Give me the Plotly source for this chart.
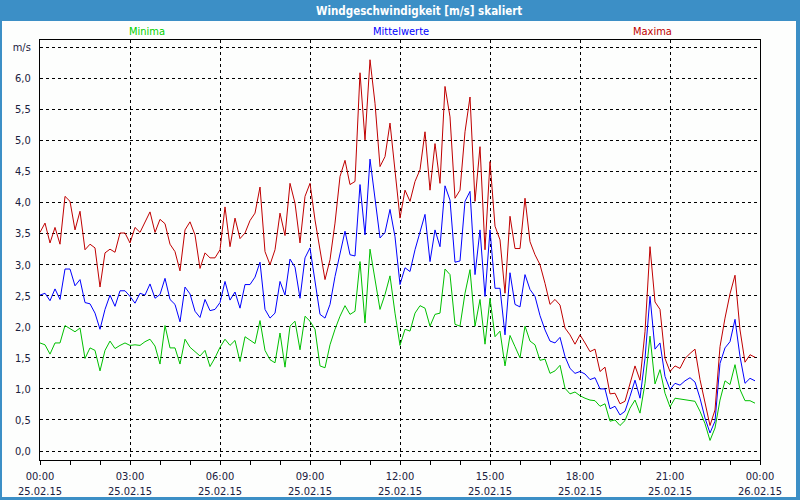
import plotly.graph_objects as go
import pandas as pd

# 10-minute values, 25.02.15 00:00 .. 23:50
maxima = [3.52,3.67,3.35,3.6,3.33,4.1,4.02,3.56,3.86,3.24,3.33,3.27,2.64,3.19,3.25,3.2,3.51,3.51,3.35,3.6,
          3.52,3.68,3.85,3.52,3.73,3.66,3.33,3.21,2.9,3.56,3.69,3.48,2.94,3.19,3.11,3.11,3.24,3.93,3.29,3.75,
          3.42,3.51,3.71,3.83,4.25,3.21,3.0,3.24,3.83,3.47,4.31,3.99,3.35,
          4.1,4.31,3.72,3.21,2.76,3.08,3.67,4.42,4.68,4.29,4.34,6.09,5.01,6.3,5.6,4.58,4.74,5.28,4.53,3.75,
          4.2,4.02,4.34,4.53,5.14,4.2,4.95,4.31,5.87,5.38,4.07,4.2,5.14,5.7,4.02,4.9,3.24,4.66,3.62,3.4,
          2.54,3.78,3.26,3.26,4.07,3.37,3.16,
          3.0,2.7,2.36,2.44,2.35,1.98,1.87,1.72,1.87,1.74,1.6,1.64,1.28,1.35,0.92,0.93,0.76,0.8,1.07,1.37,
          1.14,1.92,3.29,2.4,2.28,1.49,1.28,1.37,1.33,1.49,1.57,1.64,1.15,0.76,0.41,0.66,1.68,2.14,2.53,2.83,
          1.95,1.43,1.55,1.51]
mittel = [2.51,2.54,2.42,2.61,2.44,2.93,2.93,2.66,2.76,2.39,2.37,2.22,1.96,2.28,2.51,2.33,2.58,2.58,2.49,2.38,
          2.54,2.51,2.69,2.46,2.52,2.78,2.44,2.36,2.08,2.64,2.53,2.25,2.15,2.44,2.26,2.28,2.39,2.73,2.43,2.56,
          2.3,2.68,2.68,2.8,3.04,2.28,2.14,2.22,2.73,2.51,3.09,2.96,2.46,
          3.11,3.27,2.76,2.2,2.14,2.36,2.81,3.19,3.54,3.16,3.14,4.29,3.48,4.7,4.1,3.43,3.52,3.89,3.45,2.68,
          2.95,2.89,3.24,3.54,3.81,3.05,3.56,3.29,4.27,4.04,3.04,3.06,4.02,4.18,2.84,3.56,2.49,3.56,2.62,2.62,
          1.87,2.87,2.36,2.32,2.84,2.6,2.49,
          2.18,1.95,1.77,1.74,1.83,1.52,1.33,1.25,1.28,1.24,1.15,1.18,1.0,1.0,0.68,0.72,0.58,0.64,0.88,1.14,
          0.85,1.49,2.49,1.64,1.74,1.2,0.99,1.09,1.06,1.13,1.18,1.11,0.85,0.53,0.29,0.48,1.41,1.66,1.76,2.12,
          1.52,1.09,1.17,1.13]
minima = [1.74,1.71,1.56,1.74,1.74,2.02,1.97,1.92,1.98,1.49,1.66,1.62,1.29,1.62,1.77,1.65,1.7,1.74,1.7,1.71,
          1.7,1.76,1.8,1.69,1.4,2.02,1.66,1.66,1.4,1.8,1.67,1.6,1.53,1.62,1.36,1.5,1.67,1.8,1.7,1.78,
          1.44,1.84,1.78,1.73,2.1,1.62,1.47,1.42,1.9,1.35,2.01,2.09,1.63,
          2.17,2.09,1.96,1.37,1.34,1.71,1.96,2.17,2.34,2.2,2.25,3.05,2.06,3.25,2.76,2.28,2.52,2.82,2.22,1.7,
          1.96,1.93,2.22,2.34,2.3,2.01,2.2,2.22,2.93,2.84,2.04,2.01,2.54,2.92,2.01,2.44,1.72,2.46,1.84,1.93,
          1.37,1.86,1.68,1.5,2.01,1.77,1.71,
          1.46,1.48,1.25,1.29,1.38,1.01,0.92,0.95,0.89,0.85,0.82,0.81,0.72,0.76,0.48,0.5,0.41,0.49,0.69,0.82,
          0.61,1.09,1.85,1.08,1.31,0.93,0.71,0.85,0.84,0.82,0.82,0.8,0.64,0.44,0.17,0.37,0.82,1.13,1.07,1.39,
          0.99,0.81,0.81,0.77]

times = pd.date_range("2015-02-25 00:00", periods=len(maxima), freq="10min")

y_tickvals = [0, 0.5, 1, 1.5, 2, 2.5, 3, 3.5, 4, 4.5, 5, 5.5, 6, 6.5]
y_ticktext = ["0,0", "0,5", "1,0", "1,5", "2,0", "2,5", "3,0", "3,5", "4,0", "4,5", "5,0", "5,5", "6,0", "m/s"]

title = "Windgeschwindigkeit [m/s] skaliert"
series_names = ["Minima", "Mittelwerte", "Maxima"]
colors = ["#00c000", "#0000ff", "#c00000"]

FONT = "DejaVu Sans Condensed, DejaVu Sans, sans-serif"
TXT = "#1a2040"
W, H = 800, 500
L, R, T, B = 40, 40, 40, 40

def px_x(px):
    return (px - L) / (W - L - R)

def px_y(py):
    return 1 - (py - T) / (H - T - B)

fig = go.Figure()
for name, vals, col in zip(series_names, [minima, mittel, maxima], colors):
    fig.add_trace(go.Scatter(x=times, y=vals, mode="lines", name=name,
                             line=dict(color=col, width=1), showlegend=False))

fig.update_layout(
    width=W, height=H,
    margin=dict(l=L, r=R, t=T, b=B, autoexpand=False),
    paper_bgcolor="#3c8fc6",
    plot_bgcolor="white",
    font=dict(family=FONT, size=11, color=TXT),
    shapes=[
        dict(type="rect", xref="paper", yref="paper", layer="below",
             x0=px_x(2), x1=px_x(796), y0=px_y(497), y1=px_y(21),
             fillcolor="#fdfefd", line=dict(width=0)),
    ],
    annotations=[
        dict(text="<b>" + title + "</b>", xref="paper", yref="paper",
             x=px_x(419), y=px_y(10.5), showarrow=False, xanchor="center", yanchor="middle",
             font=dict(family=FONT, size=11.5, color="white")),
    ] + [
        dict(text=n, xref="paper", yref="paper", x=px_x(xc), y=px_y(31),
             showarrow=False, xanchor="center", yanchor="middle",
             font=dict(family=FONT, size=11, color=c))
        for n, xc, c in zip(series_names, [147, 401, 652], ["#00d000", "#0000ff", "#c00000"])
    ],
)

fig.update_xaxes(
    type="date", automargin=False,
    range=["2015-02-25 00:00", "2015-02-26 00:00"],
    tickmode="linear", tick0="2015-02-25 00:00", dtick=3 * 3600 * 1000,
    tickformat="%H:%M<br>%d.%m.%y",
    ticks="outside", ticklen=4, tickcolor="black", tickwidth=1,
    minor=dict(dtick=3600 * 1000, ticks="outside", ticklen=4, tickcolor="black", showgrid=False),
    showgrid=True, gridcolor="black", gridwidth=1, griddash="3px,3px",
    showline=True, linecolor="black", linewidth=1, mirror=True,
    zeroline=False,
    ticklabelstandoff=2,
    tickfont=dict(family=FONT, size=11, color=TXT),
)
fig.update_yaxes(
    automargin=False,
    range=[-0.145, 6.618],
    tickmode="array", tickvals=y_tickvals, ticktext=y_ticktext,
    ticks="", showgrid=True, gridcolor="black", gridwidth=1, griddash="3px,3px",
    showline=True, linecolor="black", linewidth=1, mirror=True,
    zeroline=False,
    ticklabelstandoff=6,
    tickfont=dict(family=FONT, size=11, color=TXT),
)

fig.write_html("out.html", config={"displayModeBar": False},
               post_script="document.body.style.margin='0';document.body.style.overflow='hidden';")
